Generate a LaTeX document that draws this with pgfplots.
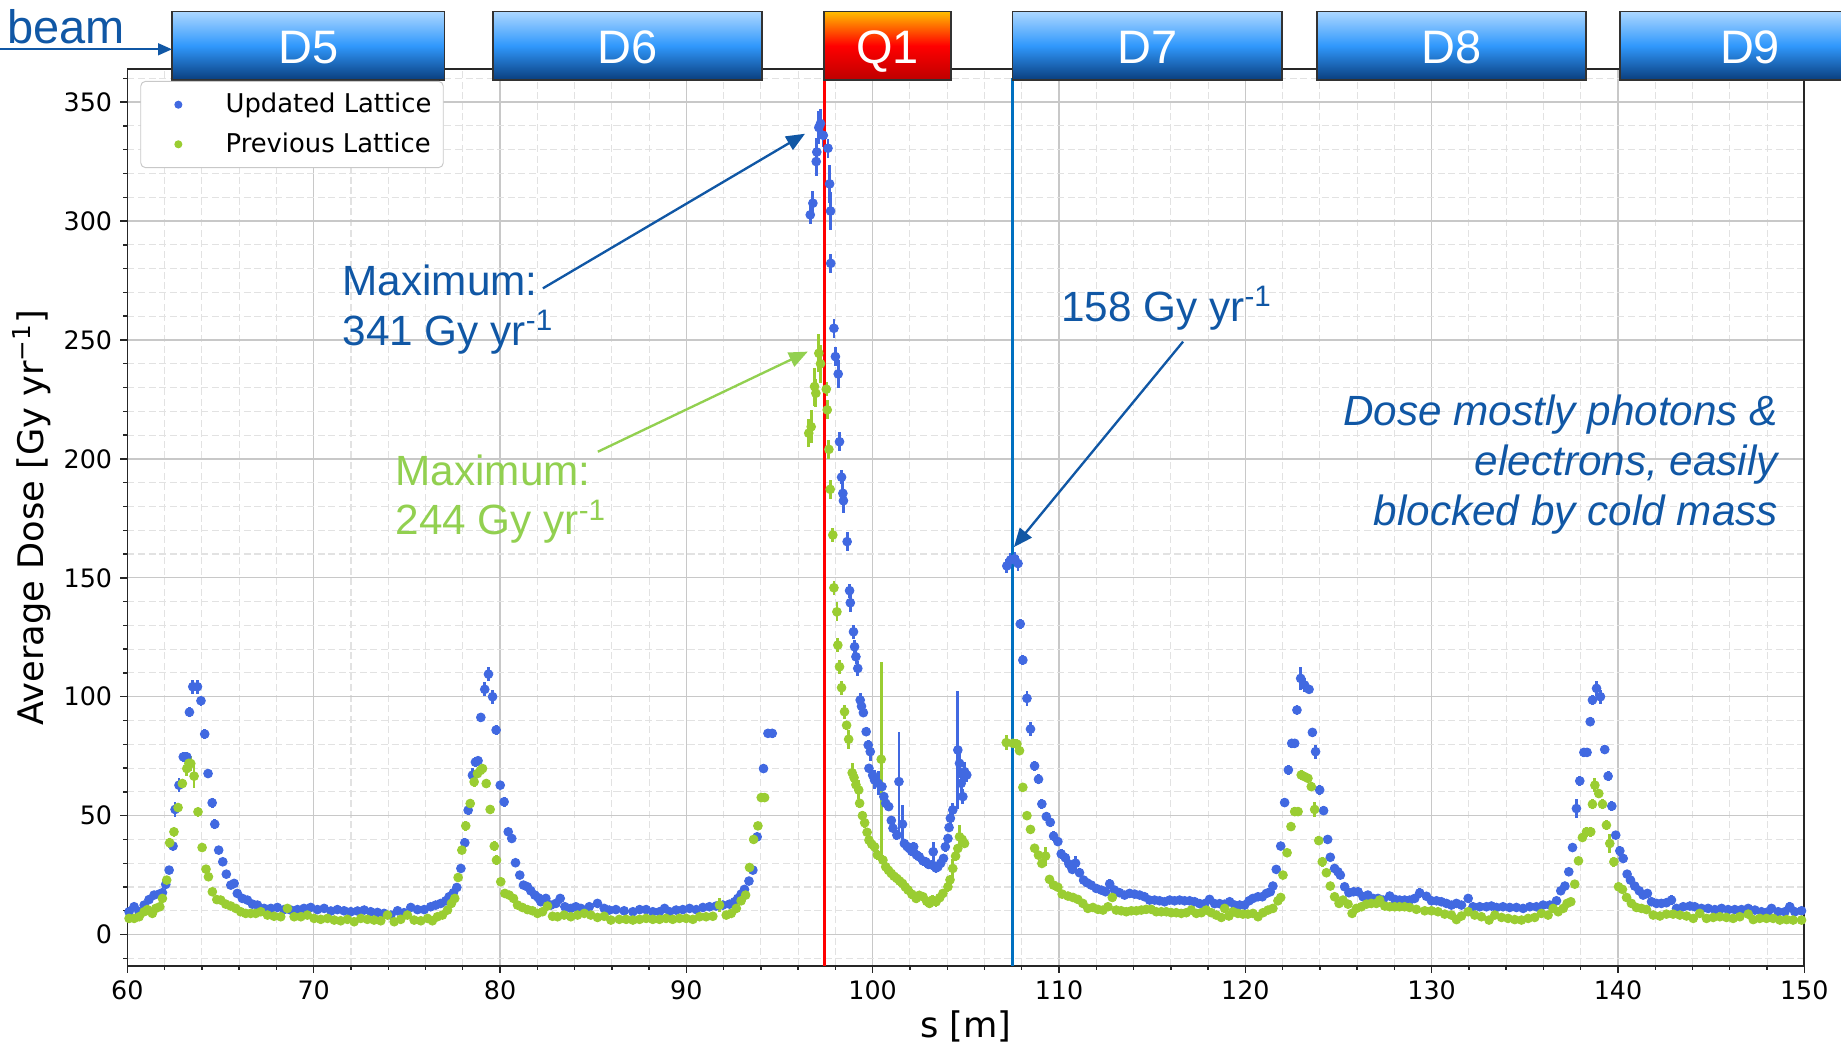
\documentclass[border=0pt]{standalone}
\usepackage{fontspec}
\setmainfont{DejaVu Sans}
\newfontfamily\arialfont{Liberation Sans}
\usepackage{pgfplots}
\usepackage{pgfplotstable}
\pgfplotsset{compat=1.18}
\usetikzlibrary{arrows.meta}

\definecolor{upd}{RGB}{65,105,225}
\definecolor{prev}{RGB}{154,205,50}
\definecolor{annblue}{RGB}{16,87,165}
\definecolor{anngreen}{RGB}{146,208,80}
\definecolor{lineblue}{RGB}{0,112,192}
\definecolor{boxtop}{RGB}{172,215,255}
\definecolor{boxmid}{RGB}{48,152,252}
\definecolor{boxbot}{RGB}{10,62,125}
\definecolor{qtop}{RGB}{255,190,0}
\definecolor{qmid}{RGB}{255,0,0}
\definecolor{qbot}{RGB}{190,0,0}
\definecolor{boxedge}{RGB}{50,50,50}
\definecolor{majgrid}{RGB}{200,200,200}
\definecolor{mingrid}{RGB}{226,226,226}

\tikzset{
  dipole/.style={top color=boxtop, bottom color=boxbot, middle color=boxmid, draw=boxedge, line width=0.7pt},
  quad/.style={top color=qtop, bottom color=qbot, middle color=qmid, draw=boxedge, line width=0.7pt},
  maglabel/.style={anchor=base, inner sep=0, text=white, font=\arialfont\fontsize{20}{24}\selectfont},
  ann/.style={anchor=base west, inner sep=0, font=\arialfont\fontsize{18}{21}\selectfont},
  note/.style={anchor=base east, inner sep=0, text=annblue, font=\arialfont\itshape\fontsize{18}{21}\selectfont},
}

% Average dose along s, updated lattice (x = s [m], y = dose, e = stat. error)
\pgfplotstableread{
x y e
60.09 9.6 1
60.36 11.7 1
60.63 9.6 1
60.9 12.4 1
61.16 14.7 1
61.43 16.6 1
61.7 17.0 1
61.88 17.6 1
62.06 21.1 1
62.24 27.1 1
62.45 37.2 2
62.56 52.6 3
62.77 62.8 3
63.0 74.7 2
63.19 74.7 2
63.33 93.5 2
63.51 104.2 3
63.76 104.2 3
63.95 98.3 2
64.15 84.3 2
64.33 67.7 2
64.55 55.4 2
64.69 46.4 2
64.9 35.5 1
65.12 30.6 1
65.31 25.4 1
65.55 20.8 1
65.73 21.5 1
65.9 17.3 1
66.17 15.2 1
66.44 14.5 1
66.71 12.8 1
66.98 12.4 1
67.34 11.0 1
67.7 11.0 1
68.05 11.4 1
68.41 10.5 1
68.77 10.3 1
69.13 10.5 1
69.48 11.0 1
69.84 11.4 1
70.2 10.5 1
70.56 11.0 1
70.92 9.9 1
71.27 10.5 1
71.63 10.0 1
71.99 9.6 1
72.35 9.9 1
72.71 10.3 1
73.06 9.6 1
73.42 9.3 1
73.78 8.9 1
74.14 8.2 1
74.5 10.0 1
74.85 9.2 1
75.21 11.4 1
75.57 10.5 1
75.93 10.5 1
76.28 11.7 1
76.55 12.4 1
76.82 13.1 1
77.09 14.2 1
77.27 15.9 1
77.5 17.6 1
77.68 19.8 1
77.9 27.8 1
78.11 38.6 2
78.29 52.3 2
78.52 67.0 3
78.68 72.5 2
78.82 73.1 2
78.97 91.3 2
79.18 103.1 3
79.38 109.5 3
79.6 100.0 3
79.79 86.0 2
80.01 62.8 1
80.22 55.8 2
80.44 43.2 1
80.63 40.4 1
80.83 30.2 1
81.06 25.0 1
81.26 20.8 1
81.47 20.1 1
81.65 18.4 1
81.87 16.6 1
82.05 15.5 1
82.19 13.8 1
82.46 15.2 2
82.73 12.4 1
83.0 13.1 1
83.23 15.2 2
83.48 11.7 1
83.8 11.0 1
84.07 11.7 1
84.34 11.0 1
84.79 11.7 1
85.23 13.1 2
85.59 11.0 1
85.86 10.3 1
86.22 10.5 1
86.66 10.0 1
87.13 9.6 1
87.49 10.5 1
87.84 10.5 1
88.2 9.6 1
88.56 9.6 1
88.83 11.0 1
89.1 9.6 1
89.45 10.3 1
89.81 10.5 1
90.17 11.0 1
90.53 10.5 1
90.89 11.4 1
91.24 11.7 1
91.6 12.0 1
91.96 12.4 1
92.32 12.8 1
92.59 13.8 1
92.76 15.2 1
92.94 17.0 1
93.12 19.0 1
93.36 22.5 1
93.57 27.1 1
93.8 41.1 1
94.14 69.8 2
94.38 84.6 2
94.61 84.6 2
96.65 302.6 4
96.79 307.5 5
96.97 325.0 6
97.0 329.0 6
97.11 339.3 7
97.2 341.0 6
97.35 336.0 5
97.6 330.6 4
97.69 315.6 8
97.74 304.2 8
97.75 282.2 4
97.92 254.9 4
98.0 243.0 4
98.15 235.7 6
98.22 207.2 4
98.33 192.3 3
98.4 185.5 5
98.43 182.4 5
98.63 165.2 4
98.76 144.6 3
98.8 139.5 4
98.97 127.3 3
99.03 121.0 3
99.1 116.8 3
99.2 111.9 3
99.33 98.6 3
99.4 96.0 2
99.5 93.3 2
99.65 85.3 2
99.76 79.7 2
99.8 69.9 2
99.87 76.9 4
100.0 67.0 2
100.1 65.0 4
100.3 63.6 5
100.5 62.2 3
100.6 58.0 2
100.7 55.2 2
100.86 53.8 2
101.0 48.0 2
101.09 44.7 2
101.3 41.8 2
101.41 64.3 21
101.6 46.4 8
101.7 38.3 2
101.85 37.0 2
101.97 36.2 2
102.1 35.0 2
102.2 36.9 2
102.35 33.5 2
102.5 32.7 2
102.7 31.0 2
102.85 30.6 2
103.0 29.5 2
103.2 29.2 2
103.25 34.8 4
103.4 28.0 2
103.5 28.5 2
103.65 30.0 2
103.8 32.0 2
103.9 36.9 2
104.04 40.4 2
104.1 45.0 2
104.17 48.9 3
104.3 52.4 3
104.57 77.6 25
104.66 72.0 6
104.75 63.6 5
104.84 58.0 3
104.93 68.5 4
105.05 67.1 3
107.2 155.0 3
107.4 157.5 3
107.62 158.0 3
107.8 156.0 3
107.92 130.6 2
108.06 115.4 2
108.28 99.3 3
108.47 86.4 3
108.69 70.9 2
108.9 65.3 2
109.08 54.9 2
109.32 49.6 2
109.53 47.2 2
109.71 41.4 2
109.94 39.1 2
110.12 33.9 2
110.34 32.3 2
110.53 29.7 2
110.71 27.4 2
110.89 30.0 3
111.1 26.0 2
111.32 22.9 1
111.5 21.8 1
111.73 20.8 1
112.0 19.4 1
112.27 18.7 1
112.5 18.0 1
112.72 21.3 2
112.98 18.7 1
113.25 17.6 1
113.52 16.6 1
113.79 17.3 1
114.06 17.0 1
114.33 16.6 1
114.59 15.9 1
114.86 14.5 1
115.13 14.5 1
115.4 14.2 1
115.67 13.8 1
115.94 14.5 1
116.2 14.2 1
116.47 14.5 1
116.74 14.2 1
117.01 14.2 1
117.28 13.8 1
117.55 13.0 1
117.82 13.0 1
118.08 14.8 2
118.35 13.0 1
118.62 13.0 1
118.89 12.8 1
119.16 13.8 1
119.43 12.4 1
119.7 12.4 1
119.96 12.4 1
120.2 14.2 1
120.41 15.2 1
120.68 15.9 1
120.91 15.9 1
121.13 17.3 1
121.34 18.0 1
121.48 20.4 1
121.66 27.4 1
121.9 37.2 1
122.11 55.5 2
122.31 69.2 2
122.49 80.4 2
122.65 80.4 2
122.77 94.4 2
122.97 107.7 5
123.18 104.9 3
123.42 103.1 2
123.6 85.0 2
123.77 76.9 3
123.99 60.8 2
124.2 52.1 2
124.42 40.0 2
124.56 32.5 1
124.79 27.8 1
124.97 26.4 1
125.1 25.0 1
125.33 20.1 1
125.56 17.6 1
125.81 18.0 1
126.05 18.0 1
126.32 15.9 1
126.58 16.6 1
126.85 15.2 1
127.12 15.2 1
127.39 14.5 1
127.75 16.2 1
128.02 14.8 1
128.28 14.5 1
128.55 14.5 1
128.82 14.5 1
129.09 15.2 1
129.36 17.5 2
129.72 16.1 1
129.99 14.2 1
130.26 14.2 1
130.52 13.8 1
130.79 13.1 1
131.06 12.4 1
131.33 13.1 1
131.6 12.4 1
131.96 15.2 2
132.22 11.7 1
132.58 11.7 1
132.94 11.7 1
133.21 12.0 1
133.48 11.4 1
133.83 11.7 1
134.19 11.4 1
134.55 11.4 1
134.91 11.0 1
135.27 11.7 1
135.62 11.7 1
135.98 12.4 1
136.34 12.4 1
136.7 14.2 1
136.93 18.4 1
137.15 20.4 1
137.36 26.4 1
137.56 36.6 1
137.77 53.0 4
137.95 64.6 2
138.17 76.6 2
138.34 76.6 2
138.51 89.5 2
138.63 98.6 2
138.85 103.5 3
139.06 100.0 3
139.29 77.8 2
139.47 66.6 2
139.67 54.0 2
139.88 41.8 1
140.1 35.2 2
140.28 32.0 2
140.49 25.4 1
140.67 22.9 1
140.9 20.4 1
141.14 18.4 1
141.35 16.6 1
141.58 17.3 2
141.8 13.8 1
142.07 13.1 1
142.33 13.1 1
142.6 13.4 1
142.87 14.5 2
143.14 11.0 1
143.5 11.7 1
143.86 12.0 1
144.12 11.7 1
144.48 11.0 1
144.84 11.0 1
145.2 10.5 1
145.56 11.0 1
145.91 10.5 1
146.27 10.5 1
146.63 10.5 1
146.99 11.0 1
147.35 10.3 1
147.7 9.6 1
148.06 9.6 1
148.24 11.0 1
148.6 9.6 1
148.96 9.6 1
149.22 11.7 2
149.49 9.6 1
149.85 10.0 1
}\updtab

% Average dose along s, previous lattice
\pgfplotstableread{
x y e
60.09 6.8 1
60.36 6.8 1
60.63 7.5 1
60.9 9.6 1
61.07 10.5 1
61.34 8.9 1
61.52 11.0 1
61.74 11.7 1
61.88 15.2 1
62.11 22.9 1
62.27 38.6 2
62.5 43.2 2
62.72 53.4 2
62.95 63.5 2
63.19 69.8 3
63.3 72.0 3
63.4 71.9 3
63.58 66.6 5
63.79 51.6 2
64.01 36.6 1
64.22 27.5 1
64.35 24.3 1
64.56 18.0 1
64.8 14.7 1
65.01 14.5 1
65.28 12.8 1
65.55 12.0 1
65.82 11.0 1
66.08 9.6 1
66.35 8.9 1
66.62 8.9 1
66.89 8.9 1
67.16 9.6 1
67.52 8.2 1
67.87 7.7 1
68.23 7.5 1
68.59 11.0 2
68.95 7.5 1
69.31 7.5 1
69.66 8.2 1
70.02 6.8 1
70.38 6.4 1
70.74 6.8 1
71.1 6.1 1
71.45 5.8 1
71.81 6.4 1
72.17 5.4 1
72.53 6.8 1
72.88 6.4 1
73.24 6.1 1
73.6 5.8 1
73.96 8.2 1
74.32 5.4 1
74.67 6.4 1
75.03 8.2 1
75.39 6.1 1
75.75 5.8 1
76.11 6.8 1
76.37 5.8 1
76.64 7.5 1
76.91 8.2 1
77.18 10.3 1
77.39 13.1 1
77.57 15.2 1
77.75 24.0 1
77.95 35.5 1
78.16 45.7 2
78.4 55.1 2
78.61 64.2 2
78.79 67.7 2
78.95 69.0 2
79.06 69.8 2
79.26 63.5 2
79.47 52.6 2
79.69 37.2 2
79.81 31.3 2
80.04 22.2 1
80.26 17.3 1
80.49 16.6 1
80.72 15.2 1
80.94 12.4 1
81.2 11.4 1
81.47 10.5 1
81.74 10.0 1
82.01 8.9 1
82.28 9.6 1
82.55 12.0 1
82.82 7.7 1
83.09 7.5 1
83.44 8.2 1
83.8 7.5 1
84.16 8.2 1
84.52 8.9 1
84.87 8.2 1
85.23 7.2 1
85.59 7.7 1
85.95 6.1 1
86.4 6.4 1
86.77 6.4 1
87.13 6.1 1
87.49 6.4 1
87.84 6.8 1
88.2 6.4 1
88.56 6.4 1
88.91 6.8 1
89.27 6.4 1
89.63 6.8 1
89.99 6.8 1
90.35 6.4 1
90.71 7.5 1
91.06 7.5 1
91.42 7.7 1
91.78 12.4 3
92.14 8.2 1
92.41 8.9 1
92.68 11.0 1
92.94 14.2 1
93.18 16.6 1
93.39 28.2 1
93.61 40.0 1
93.84 45.7 1
94.02 57.6 2
94.2 57.6 2
96.57 210.8 6
96.7 213.5 7
96.88 230.4 8
96.95 227.6 6
97.11 244.4 8
97.2 240.0 8
97.51 229.3 3
97.56 220.6 4
97.65 204.0 4
97.72 187.2 4
97.86 168.0 3
97.92 145.8 3
98.08 135.7 4
98.13 121.7 3
98.22 112.6 3
98.33 103.8 3
98.49 93.7 3
98.6 88.0 2
98.71 82.1 4
98.9 68.0 4
99.0 66.0 2
99.1 63.0 2
99.25 60.8 4
99.3 55.2 2
99.45 50.0 2
99.57 47.0 2
99.7 43.0 2
99.8 39.7 2
99.95 38.0 2
100.1 36.9 2
100.25 33.5 2
100.46 73.7 41
100.55 31.3 2
100.7 28.5 2
100.85 27.0 2
101.0 25.7 2
101.15 24.5 2
101.3 23.6 2
101.45 22.5 2
101.6 21.5 2
101.75 20.0 2
101.9 18.7 2
102.1 17.0 2
102.33 15.2 2
102.5 16.5 2
102.7 15.9 2
102.9 14.0 2
103.05 13.1 2
103.2 14.5 2
103.4 13.8 2
103.6 15.5 2
103.77 17.3 2
104.04 20.1 2
104.15 23.0 2
104.3 27.8 4
104.45 33.0 2
104.57 36.2 2
104.66 41.1 5
104.8 40.0 2
104.93 38.3 2
107.17 80.7 3
107.53 80.4 2
107.74 80.1 2
107.88 77.3 2
108.06 61.9 2
108.28 50.0 1
108.47 44.2 1
108.69 36.3 1
108.9 33.4 1
109.08 29.9 1
109.28 33.0 4
109.49 23.2 1
109.71 20.8 1
109.94 19.9 1
110.17 17.0 1
110.48 16.2 1
110.75 15.6 1
111.01 14.8 1
111.28 13.1 1
111.55 11.0 1
111.82 11.4 1
112.09 10.6 1
112.36 10.3 1
112.63 11.7 1
112.86 15.6 2
113.07 10.3 1
113.34 10.0 1
113.61 9.6 1
113.88 10.0 1
114.15 10.0 1
114.42 10.3 1
114.68 10.6 1
114.95 10.6 1
115.22 9.6 1
115.49 9.6 1
115.76 9.6 1
116.03 9.2 1
116.29 9.2 1
116.56 8.9 1
116.83 9.2 1
117.1 10.3 1
117.37 8.9 1
117.64 9.2 1
117.9 10.3 1
118.17 9.2 1
118.44 8.2 1
118.71 7.2 1
118.89 11.0 2
119.12 7.8 1
119.34 9.6 1
119.6 8.9 1
119.87 8.6 1
120.14 8.6 1
120.41 8.9 1
120.68 7.5 1
120.95 9.2 1
121.22 10.3 1
121.48 11.0 1
121.75 14.2 1
121.9 15.6 1
122.02 25.0 1
122.24 34.4 1
122.45 45.4 2
122.65 51.7 2
122.83 51.7 2
123.0 67.1 2
123.18 66.4 2
123.36 65.7 2
123.54 62.2 2
123.72 52.6 3
123.94 39.5 2
124.13 30.6 2
124.35 26.0 1
124.56 20.4 1
124.79 15.9 1
125.03 13.1 1
125.24 14.5 1
125.51 12.8 1
125.73 8.9 1
125.96 11.0 1
126.23 11.7 1
126.5 12.8 1
126.76 13.1 1
127.03 13.1 1
127.21 14.5 1
127.48 12.0 1
127.75 11.7 1
128.02 11.7 1
128.28 11.7 1
128.55 11.7 1
128.82 11.4 1
129.18 10.6 1
129.63 10.0 1
129.99 10.0 1
130.34 9.6 1
130.7 8.6 1
131.06 8.2 1
131.33 6.3 1
131.6 7.8 1
131.96 9.6 1
132.31 8.2 1
132.67 7.5 1
133.08 6.1 1
133.39 8.2 1
133.75 7.2 1
134.1 6.8 1
134.46 6.3 1
134.82 6.1 1
135.18 6.8 1
135.53 7.2 1
135.89 8.9 1
136.25 8.2 1
136.52 11.0 2
136.79 9.6 1
137.06 11.0 1
137.27 13.1 1
137.47 13.8 1
137.68 21.2 1
137.88 31.0 1
138.09 40.8 2
138.31 43.2 2
138.54 43.2 2
138.63 54.8 2
138.76 62.8 3
138.97 59.3 2
139.17 54.8 2
139.38 46.0 2
139.56 38.3 4
139.78 30.6 2
140.03 20.1 1
140.24 19.0 1
140.46 15.6 1
140.72 13.1 1
140.99 11.4 1
141.26 11.0 1
141.53 10.5 1
141.89 8.2 1
142.25 7.8 1
142.6 8.6 1
142.96 8.6 1
143.32 8.2 1
143.68 7.8 1
144.04 6.8 1
144.39 8.9 1
144.75 6.8 1
145.11 7.2 1
145.47 7.5 1
145.82 7.2 1
146.18 6.8 1
146.54 7.5 1
146.99 8.6 1
147.26 6.3 1
147.61 6.8 1
147.97 6.8 1
148.33 6.8 1
148.69 6.1 1
149.05 6.3 1
149.4 6.1 1
149.85 6.1 1
}\prevtab

\begin{document}
\begin{tikzpicture}
\begin{axis}[
  scale only axis,
  width=714.1pt, height=381.75pt,
  xmin=60, xmax=150, ymin=-13.1, ymax=363.8,
  clip=false,
  xtick={60,70,...,150},
  ytick={0,50,...,350},
  minor xtick={62,64,66,68,72,74,76,78,82,84,86,88,92,94,96,98,102,104,106,108,112,114,116,118,122,124,126,128,132,134,136,138,142,144,146,148},
  minor ytick={-10,10,20,30,40,60,70,80,90,110,120,130,140,160,170,180,190,210,220,230,240,260,270,280,290,310,320,330,340,360},
  grid=both,
  major grid style={line width=0.55pt, majgrid},
  minor grid style={line width=0.45pt, mingrid, dash pattern=on 3pt off 1.5pt},
  axis line style={line width=0.7pt, black!85},
  tick pos=left,
  tick align=outside,
  major tick length=3pt,
  minor tick length=1.8pt,
  tick style={line width=0.6pt, black!85},
  /pgf/number format/assume math mode=true,
  tick label style={font=\fontsize{10.8}{12}\selectfont},
  xlabel={s [m]},
  ylabel={Average Dose [Gy yr\textsuperscript{−1}]},
  xlabel style={font=\fontsize{15}{18}\selectfont, at={(axis description cs:0.5,-0.0675)}, anchor=center},
  ylabel style={font=\fontsize{15}{18}\selectfont, at={(axis description cs:-0.0571,0.5)}, anchor=center},
  legend style={at={(rel axis cs:0.0077,0.987)}, anchor=north west,
    draw=majgrid, rounded corners=2pt, fill=white,
    font=\fontsize{11}{13}\selectfont,
    inner xsep=3pt, inner ysep=3pt, row sep=3pt},
  legend cell align=left,
  legend image code/.code={%
    \path (0cm,0cm) (1.08cm,0cm);
    \draw[#1, mark size=1.5pt] plot coordinates {(0.45cm,0cm)};},
]

\addplot[only marks, mark=*, mark size=1.85pt, color=upd,
  error bars/.cd, y dir=both, y explicit, error mark=none,
  error bar style={line width=1.2pt, upd}]
  table[x=x, y=y, y error=e]{\updtab};
\addlegendentry{Updated Lattice\hspace{5pt}}

\addplot[only marks, mark=*, mark size=1.85pt, color=prev,
  error bars/.cd, y dir=both, y explicit, error mark=none,
  error bar style={line width=1.2pt, prev}]
  table[x=x, y=y, y error=e]{\prevtab};
\addlegendentry{Previous Lattice\hspace{5pt}}

% entrance of Q1 and of D7
\draw[red, line width=1.5pt] (axis cs:97.42,-13.1) -- (axis cs:97.42,360);
\draw[lineblue, line width=1.3pt] (axis cs:107.5,-13.1) -- (axis cs:107.5,360);

% magnet layout along the beam line
\path[dipole] (axis cs:62.40,359.3) rectangle (axis cs:77.02,388.1);
\path[dipole] (axis cs:79.62,359.3) rectangle (axis cs:94.05,388.1);
\path[quad] (axis cs:97.40,359.3) rectangle (axis cs:104.2,388.1);
\path[dipole] (axis cs:107.5,359.3) rectangle (axis cs:121.97,388.1);
\path[dipole] (axis cs:123.83,359.3) rectangle (axis cs:138.27,388.1);
\path[dipole] (axis cs:140.11,359.3) rectangle (axis cs:156,388.1);

\node[maglabel] at (axis cs:69.71,366.1) {D5};
\node[maglabel] at (axis cs:86.84,366.1) {D6};
\node[maglabel] at (axis cs:100.8,366.1) {Q1};
\node[maglabel] at (axis cs:114.74,366.1) {D7};
\node[maglabel] at (axis cs:131.05,366.1) {D8};
\node[maglabel] at (axis cs:147.09,366.1) {D9};

% beam direction
\node[anchor=base west, inner sep=0, text=annblue, font=\arialfont\fontsize{20}{23}\selectfont]
  at (axis cs:53.52,374.8) {beam};
\draw[annblue, line width=1pt, -{Triangle[length=6pt,width=5pt]}]
  (axis cs:52.9,372.2) -- (axis cs:62.40,372.2);

% peak annotations
\node[ann, text=annblue] at (axis cs:71.53,268.6) {Maximum:};
\node[ann, text=annblue] at (axis cs:71.53,247.6) {341 Gy yr\textsuperscript{-1}};
\draw[annblue, line width=1pt, -{Triangle[length=8pt,width=6.5pt]}]
  (axis cs:82.30,271.7) -- (axis cs:96.37,336.7);

\node[ann, text=anngreen] at (axis cs:74.37,189.0) {Maximum:};
\node[ann, text=anngreen] at (axis cs:74.37,168.0) {244 Gy yr\textsuperscript{-1}};
\draw[anngreen, line width=1pt, -{Triangle[length=8pt,width=6.5pt]}]
  (axis cs:85.25,203.0) -- (axis cs:96.52,245.1);

\node[ann, text=annblue] at (axis cs:110.1,257.7) {158 Gy yr\textsuperscript{-1}};
\draw[annblue, line width=1pt, -{Triangle[length=8pt,width=6.5pt]}]
  (axis cs:116.66,249.3) -- (axis cs:107.58,162.9);

\node[note] at (axis cs:148.61,214.2) {Dose mostly photons \&};
\node[note] at (axis cs:148.61,193.0) {electrons, easily};
\node[note] at (axis cs:148.61,171.8) {blocked by cold mass};

\coordinate (bbSW) at (axis cs:53.163,-47.9);
\coordinate (bbNE) at (axis cs:151.97,392.93);
\end{axis}
\pgfresetboundingbox
\path[use as bounding box] (bbSW) rectangle (bbNE);
\end{tikzpicture}
\end{document}
